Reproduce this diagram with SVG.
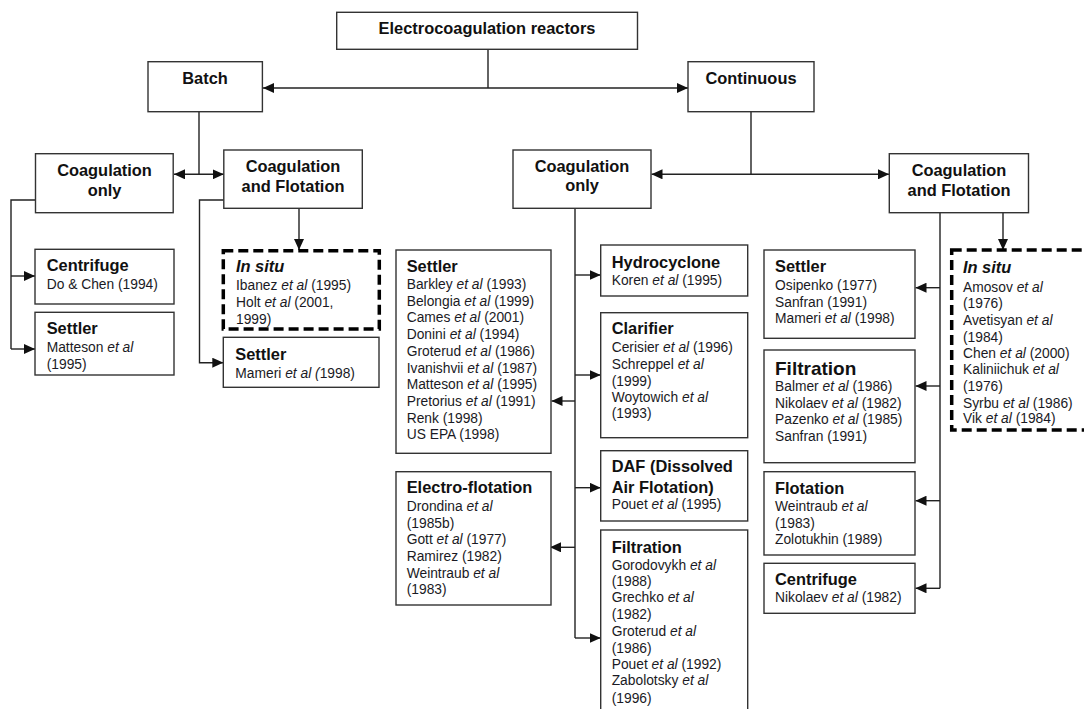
<svg xmlns="http://www.w3.org/2000/svg" width="1084" height="709" viewBox="0 0 1084 709">
<defs>
<style>
.box{fill:#fff;stroke:#333;stroke-width:1.4}
.dash{fill:none;stroke:#000;stroke-width:3.5;stroke-dasharray:10 5}
.conn{fill:none;stroke:#222;stroke-width:1.4}
.h{font-family:"Liberation Sans",Arial,sans-serif;font-weight:bold;font-size:16.4px;fill:#111}
.hb{font-family:"Liberation Sans",Arial,sans-serif;font-weight:bold;font-size:19px;fill:#111}
.t{font-family:"Liberation Sans",Arial,sans-serif;font-size:13.8px;fill:#1a1a24}
.c{text-anchor:middle}
.i{font-style:italic}
</style>
<marker id="ah" viewBox="0 0 11 10" refX="11" refY="5" markerWidth="11" markerHeight="10" orient="auto-start-reverse" markerUnits="userSpaceOnUse"><path d="M0,0 L11,5 L0,10 z" fill="#111"/></marker>
</defs>
<rect width="1084" height="709" fill="#fff"/>

<g id="connectors">
<path class="conn" d="M488,49.3 V88"/>
<path class="conn" d="M263,88 H688" marker-start="url(#ah)" marker-end="url(#ah)"/>
<path class="conn" d="M199,111.7 V174.3"/>
<path class="conn" d="M174,174.3 H223.8" marker-start="url(#ah)" marker-end="url(#ah)"/>
<path class="conn" d="M751,111.7 V174.3"/>
<path class="conn" d="M651.5,174.3 H889" marker-start="url(#ah)" marker-end="url(#ah)"/>
<path class="conn" d="M35.5,200 H11 V349"/>
<path class="conn" d="M11,276 H35" marker-end="url(#ah)"/>
<path class="conn" d="M11,349 H35" marker-end="url(#ah)"/>
<path class="conn" d="M223.8,200 H199.5 V362.7 H223.3" marker-end="url(#ah)"/>
<path class="conn" d="M299,208.3 V250" marker-end="url(#ah)"/>
<path class="conn" d="M575,208.3 V638"/>
<path class="conn" d="M575,275 H600.7" marker-end="url(#ah)"/>
<path class="conn" d="M575,375 H600.7" marker-end="url(#ah)"/>
<path class="conn" d="M575,401 H551.5" marker-end="url(#ah)"/>
<path class="conn" d="M575,487.7 H600.7" marker-end="url(#ah)"/>
<path class="conn" d="M575,547.3 H550" marker-end="url(#ah)"/>
<path class="conn" d="M575,638 H600.7" marker-end="url(#ah)"/>
<path class="conn" d="M940,212.7 V588.3"/>
<path class="conn" d="M940,287.7 H915.5" marker-end="url(#ah)"/>
<path class="conn" d="M940,386 H915.5" marker-end="url(#ah)"/>
<path class="conn" d="M940,500.7 H915.5" marker-end="url(#ah)"/>
<path class="conn" d="M940,588.3 H915.5" marker-end="url(#ah)"/>
<path class="conn" d="M1003,212.7 V250" marker-end="url(#ah)"/>
</g>

<g id="n-root"><rect class="box" x="336.7" y="12.3" width="300.8" height="37"/><text class="h c" x="487" y="34">Electrocoagulation reactors</text></g>
<g id="n-batch"><rect class="box" x="148" y="61.7" width="114.4" height="50"/><text class="h c" x="205" y="84">Batch</text></g>
<g id="n-continuous"><rect class="box" x="688" y="61.7" width="126" height="50"/><text class="h c" x="751" y="84">Continuous</text></g>

<g id="n-b-coag"><rect class="box" x="35.5" y="153.7" width="137.7" height="59"/><text class="h c" x="104.5" y="175.5">Coagulation</text><text class="h c" x="104.5" y="195.5">only</text></g>
<g id="n-b-coagflot"><rect class="box" x="223.8" y="150" width="138.5" height="58.3"/><text class="h c" x="293" y="171.5">Coagulation</text><text class="h c" x="293" y="191.5">and Flotation</text></g>
<g id="n-c-coag"><rect class="box" x="513" y="150" width="138" height="58.3"/><text class="h c" x="582" y="171.5">Coagulation</text><text class="h c" x="582" y="191">only</text></g>
<g id="n-c-coagflot"><rect class="box" x="889.3" y="153.7" width="139.2" height="59"/><text class="h c" x="959" y="175.5">Coagulation</text><text class="h c" x="959" y="195.5">and Flotation</text></g>

<g id="n-b-centrifuge"><rect class="box" x="35" y="249.3" width="139" height="54.7"/><text class="h" x="46.7" y="271">Centrifuge</text><text class="t" x="46.7" y="289">Do &amp; Chen (1994)</text></g>
<g id="n-b-settler"><rect class="box" x="35" y="312.3" width="139" height="62.7"/><text class="h" x="46.7" y="334">Settler</text><text class="t" x="46.7" y="351.7">Matteson <tspan class="i">et al</tspan></text><text class="t" x="46.7" y="369.3">(1995)</text></g>
<g id="n-b-insitu"><rect class="dash" x="223.3" y="250.7" width="156" height="78.3"/><text class="h i" x="236" y="272">In situ</text><text class="t" x="236" y="290">Ibanez <tspan class="i">et al</tspan> (1995)</text><text class="t" x="236" y="306.7">Holt <tspan class="i">et al</tspan> (2001,</text><text class="t" x="236" y="323.7">1999)</text></g>
<g id="n-b-settler2"><rect class="box" x="223.3" y="337.3" width="155.7" height="50"/><text class="h" x="235.3" y="359.5">Settler</text><text class="t" x="235.3" y="377.7">Mameri <tspan class="i">et al (</tspan>1998)</text></g>

<g id="n-c-settler"><rect class="box" x="396" y="250" width="155" height="203.3"/><text class="h" x="406.7" y="271.5">Settler</text>
<text class="t" x="406.7" y="289">Barkley <tspan class="i">et al</tspan> (1993)</text>
<text class="t" x="406.7" y="305.7">Belongia <tspan class="i">et al</tspan> (1999)</text>
<text class="t" x="406.7" y="322.4">Cames <tspan class="i">et al</tspan> (2001)</text>
<text class="t" x="406.7" y="339.1">Donini <tspan class="i">et al</tspan> (1994)</text>
<text class="t" x="406.7" y="355.8">Groterud <tspan class="i">et al</tspan> (1986)</text>
<text class="t" x="406.7" y="372.5">Ivanishvii <tspan class="i">et al</tspan> (1987)</text>
<text class="t" x="406.7" y="389.2">Matteson <tspan class="i">et al</tspan> (1995)</text>
<text class="t" x="406.7" y="405.9">Pretorius <tspan class="i">et al</tspan> (1991)</text>
<text class="t" x="406.7" y="422.6">Renk (1998)</text>
<text class="t" x="406.7" y="439.3">US EPA (1998)</text></g>
<g id="n-c-electroflot"><rect class="box" x="396" y="471.7" width="155" height="133.3"/><text class="h" x="406.7" y="493">Electro-flotation</text>
<text class="t" x="406.7" y="511">Drondina <tspan class="i">et al</tspan></text>
<text class="t" x="406.7" y="527.7">(1985b)</text>
<text class="t" x="406.7" y="544.3">Gott <tspan class="i">et al</tspan> (1977)</text>
<text class="t" x="406.7" y="561">Ramirez (1982)</text>
<text class="t" x="406.7" y="577.7">Weintraub <tspan class="i">et al</tspan></text>
<text class="t" x="406.7" y="594.3">(1983)</text></g>

<g id="n-c-hydro"><rect class="box" x="600.7" y="245" width="147" height="51"/><text class="h" x="611.7" y="267.5">Hydrocyclone</text><text class="t" x="611.7" y="285">Koren <tspan class="i">et al</tspan> (1995)</text></g>
<g id="n-c-clarifier"><rect class="box" x="600.7" y="312.7" width="147" height="125"/><text class="h" x="611.7" y="334">Clarifier</text>
<text class="t" x="611.7" y="351.7">Cerisier <tspan class="i">et al</tspan> (1996)</text>
<text class="t" x="611.7" y="369">Schreppel <tspan class="i">et al</tspan></text>
<text class="t" x="611.7" y="385.7">(1999)</text>
<text class="t" x="611.7" y="401.7">Woytowich <tspan class="i">et al</tspan></text>
<text class="t" x="611.7" y="418.3">(1993)</text></g>
<g id="n-c-daf"><rect class="box" x="600.7" y="450.7" width="147" height="70.3"/><text class="h" x="611.7" y="472">DAF (Dissolved</text><text class="h" x="611.7" y="493">Air Flotation)</text><text class="t" x="611.7" y="509.3">Pouet <tspan class="i">et al</tspan> (1995)</text></g>
<g id="n-c-filtration"><rect class="box" x="600.7" y="530" width="147" height="190"/><text class="h" x="611.7" y="552.5">Filtration</text>
<text class="t" x="611.7" y="570">Gorodovykh <tspan class="i">et al</tspan></text>
<text class="t" x="611.7" y="586">(1988)</text>
<text class="t" x="611.7" y="602.3">Grechko <tspan class="i">et al</tspan></text>
<text class="t" x="611.7" y="619.3">(1982)</text>
<text class="t" x="611.7" y="636">Groterud <tspan class="i">et al</tspan></text>
<text class="t" x="611.7" y="652.7">(1986)</text>
<text class="t" x="611.7" y="669.3">Pouet <tspan class="i">et al</tspan> (1992)</text>
<text class="t" x="611.7" y="685">Zabolotsky <tspan class="i">et al</tspan></text>
<text class="t" x="611.7" y="702.7">(1996)</text></g>

<g id="n-cf-settler"><rect class="box" x="764" y="250" width="151" height="88.3"/><text class="h" x="775" y="271.5">Settler</text>
<text class="t" x="775" y="290">Osipenko (1977)</text>
<text class="t" x="775" y="306.7">Sanfran (1991)</text>
<text class="t" x="775" y="323.3">Mameri <tspan class="i">et al</tspan> (1998)</text></g>
<g id="n-cf-filtration"><rect class="box" x="764" y="350" width="151" height="112.7"/><text class="hb" x="775" y="375">Filtration</text>
<text class="t" x="775" y="391">Balmer <tspan class="i">et al</tspan> (1986)</text>
<text class="t" x="775" y="407.5">Nikolaev <tspan class="i">et al</tspan> (1982)</text>
<text class="t" x="775" y="424">Pazenko <tspan class="i">et al</tspan> (1985)</text>
<text class="t" x="775" y="440.5">Sanfran (1991)</text></g>
<g id="n-cf-flotation"><rect class="box" x="764" y="471.7" width="151" height="83.3"/><text class="h" x="775" y="493.5">Flotation</text>
<text class="t" x="775" y="511">Weintraub <tspan class="i">et al</tspan></text>
<text class="t" x="775" y="527.7">(1983)</text>
<text class="t" x="775" y="544.3">Zolotukhin (1989)</text></g>
<g id="n-cf-centrifuge"><rect class="box" x="764" y="563.3" width="151" height="50"/><text class="h" x="775" y="585">Centrifuge</text><text class="t" x="775" y="601.7">Nikolaev <tspan class="i">et al</tspan> (1982)</text></g>
<g id="n-cf-insitu"><rect class="dash" x="951.7" y="250" width="145" height="180"/><text class="h i" x="963" y="273">In situ</text>
<text class="t" x="963" y="291.7">Amosov <tspan class="i">et al</tspan></text>
<text class="t" x="963" y="308.3">(1976)</text>
<text class="t" x="963" y="325">Avetisyan <tspan class="i">et al</tspan></text>
<text class="t" x="963" y="341.7">(1984)</text>
<text class="t" x="963" y="358.3">Chen <tspan class="i">et al</tspan> (2000)</text>
<text class="t" x="963" y="374.3">Kaliniichuk <tspan class="i">et al</tspan></text>
<text class="t" x="963" y="390.7">(1976)</text>
<text class="t" x="963" y="407.7">Syrbu <tspan class="i">et al</tspan> (1986)</text>
<text class="t" x="963" y="423.3">Vik <tspan class="i">et al</tspan> (1984)</text></g>
</svg>
